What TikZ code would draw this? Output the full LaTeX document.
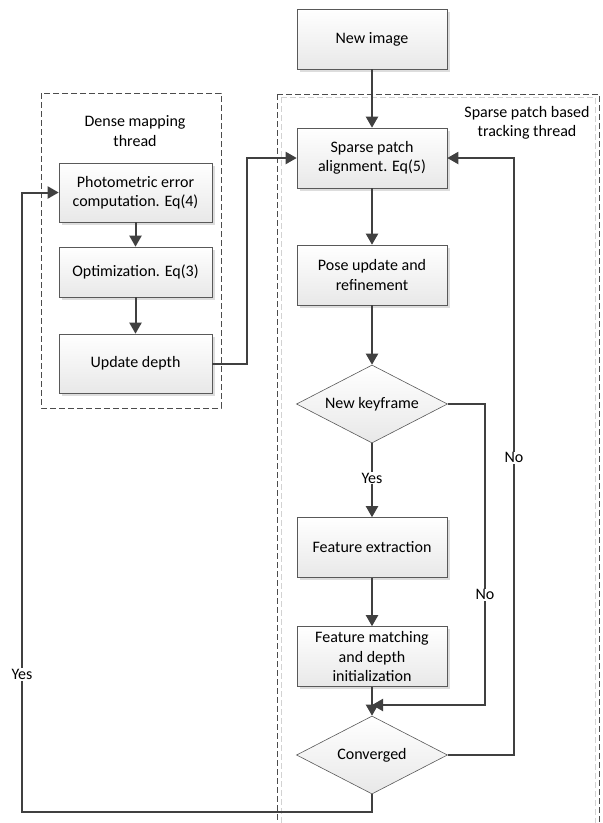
\documentclass[tikz,border=0pt]{standalone}
\usepackage{fontspec}
\setmainfont{Carlito}
\usetikzlibrary{arrows.meta,shapes.geometric,shadows,calc}
\begin{document}
\begin{tikzpicture}[x=1pt,y=-1pt,
  font=\fontsize{16}{19.5}\selectfont,
  box/.style={draw=gray!70!black, line width=0.6pt, top color=white, bottom color=gray!18,
    minimum width=150pt, minimum height=60pt, inner sep=2pt, align=center,
    drop shadow={shadow xshift=2.5pt, shadow yshift=-2.5pt, fill=gray!45, opacity=0.6}},
  dia/.style={shape=diamond, draw=gray!70!black, line width=0.6pt, top color=white, bottom color=gray!18,
    minimum width=151pt, minimum height=78pt, inner sep=0pt, aspect=2},
  arr/.style={draw=black!75, line width=2pt, -{Triangle[length=11pt,width=12pt]}},
  grp/.style={draw=black!70, line width=0.7pt, dash pattern=on 6pt off 3pt},
  grpsh/.style={draw=gray!35, line width=0.7pt, dash pattern=on 6pt off 3pt},
  lbl/.style={fill=white, inner sep=1pt}
]
\useasboundingbox (0,0) rectangle (603,823);
% groups
\draw[grp] (41,93) rectangle (221,408);
\draw[grpsh] (281,97) -- (281,830);
\draw[grpsh] (281,97) -- (595,97) -- (595,830);
\draw[grp] (277,94) -- (277,830);
\draw[grp] (277,94) -- (599,94) -- (599,830);
\node[align=center] (tdense) at (135,131) {Dense mapping\\thread};
\node[align=center] (tsparse) at (527,123) {Sparse patch based\\tracking thread};
% nodes
\node[box] (new) at (372,39) {New image};
\node[box] (spa) at (372,158) {Sparse patch\\alignment. Eq(5)};
\node[box] (pose) at (372,275) {Pose update and\\refinement};
\node[dia] (kf) at (372,404) {};
\node (kft) at (kf) {New keyframe};
\node[box] (fe) at (372,547.5) {Feature extraction};
\node[box] (fm) at (372,656.5) {Feature matching\\and depth\\initialization};
\node[dia] (conv) at (372,755) {};
\node (convt) at (conv) {Converged};
\node[box, minimum width=153pt, minimum height=59pt] (photo) at (135.5,192.5) {Photometric error\\computation. Eq(4)};
\node[box, minimum width=153pt, minimum height=50pt] (opt) at (135.5,272) {Optimization. Eq(3)};
\node[box, minimum width=153pt, minimum height=59pt] (upd) at (135.5,363.5) {Update depth};
% coordinates
\coordinate (m1) at (247,158);
\coordinate (nojoin) at (372,705);
\coordinate (r1) at (485,404);
\coordinate (r2) at (514,158);
\coordinate (l1) at (22,812);
% connectors
\draw[arr] (new) -- (spa);
\draw[arr] (spa) -- (pose);
\draw[arr] (pose) -- (kf);
\draw[arr] (kf) -- node[lbl, pos=0.47] (yes1) {Yes} (fe);
\draw[arr] (fe) -- (fm);
\draw[arr] (fm) -- (conv);
\draw[arr] (photo) -- (opt);
\draw[arr] (opt) -- (upd);
\draw[arr] (upd.east) -| (m1) -- (spa.west);
\draw[arr] (kf.east) -- (r1) |- node[lbl, pos=0.317] (no1) {No} (nojoin);
\draw[arr] (conv.east) -| node[lbl, pos=0.749] (no2) {No} (r2) -- (spa.east);
\draw[arr] (conv.south) |- (l1) |- node[lbl, pos=0.111] (yes2) {Yes} (photo.west);
\end{tikzpicture}
\end{document}
